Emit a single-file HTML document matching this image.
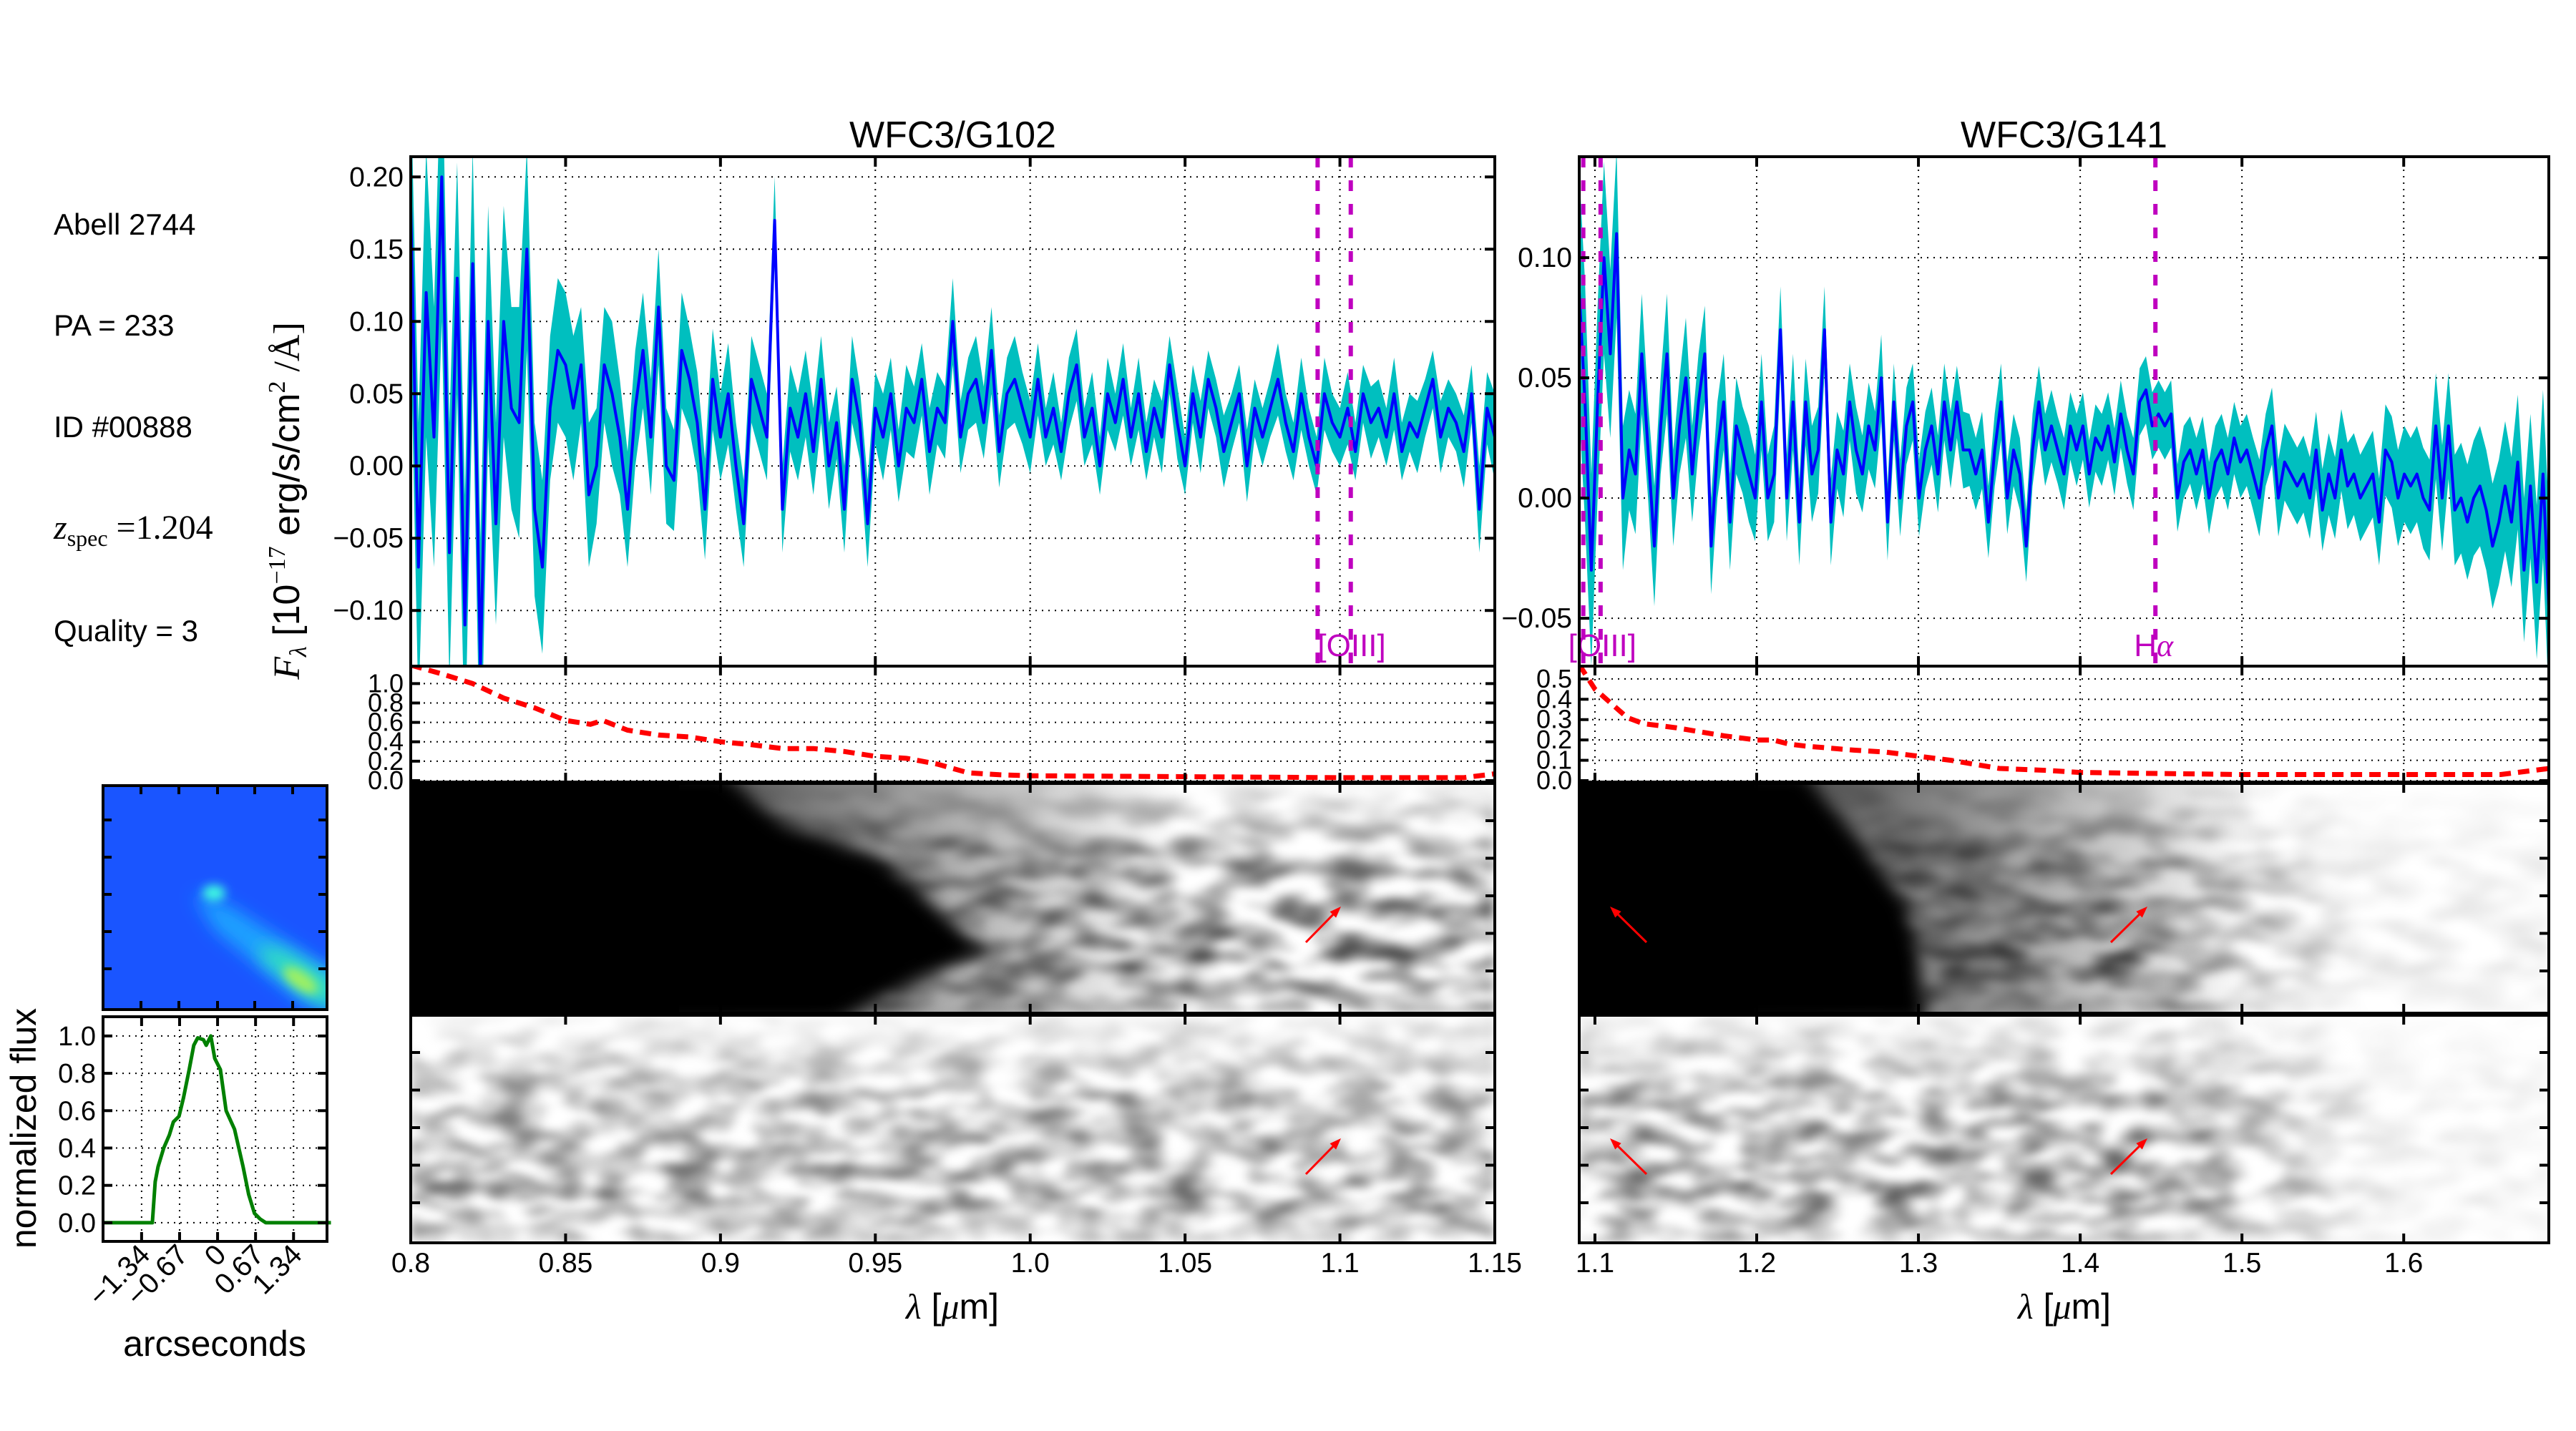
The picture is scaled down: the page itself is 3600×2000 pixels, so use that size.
<!DOCTYPE html>
<html><head><meta charset="utf-8"><style>
html,body{margin:0;padding:0;background:#fff;}
svg{display:block;font-family:"Liberation Sans",sans-serif;}
</style></head><body>
<svg id="fig" width="3600" height="2000" viewBox="0 0 3600 2000" xmlns="http://www.w3.org/2000/svg">
<defs>
<filter id="mottle" x="0" y="0" width="100%" height="100%">
<feTurbulence type="fractalNoise" baseFrequency="0.014 0.035" numOctaves="2" seed="7"/>
<feColorMatrix type="matrix" values="0 0 0 0 0  0 0 0 0 0  0 0 0 0 0  2.4 0 0 0 -0.85"/>
<feGaussianBlur stdDeviation="6"/>
</filter>
<filter id="mottle2" x="0" y="0" width="100%" height="100%">
<feTurbulence type="fractalNoise" baseFrequency="0.016 0.04" numOctaves="2" seed="19"/>
<feColorMatrix type="matrix" values="0 0 0 0 0  0 0 0 0 0  0 0 0 0 0  2.4 0 0 0 -0.85"/>
<feGaussianBlur stdDeviation="6"/>
</filter>
<filter id="blurMid" x="-50%" y="-50%" width="200%" height="200%"><feGaussianBlur stdDeviation="12"/></filter>
<filter id="blurSm" x="-80%" y="-80%" width="260%" height="260%"><feGaussianBlur stdDeviation="7"/></filter>
<linearGradient id="bandV" x1="0" y1="0" x2="0" y2="1">
<stop offset="0" stop-color="#fff" stop-opacity="0.85"/>
<stop offset="0.35" stop-color="#fff" stop-opacity="0.25"/>
<stop offset="0.8" stop-color="#fff" stop-opacity="0.1"/>
<stop offset="1" stop-color="#fff" stop-opacity="0.45"/>
</linearGradient>
<linearGradient id="fadeR102" x1="0" y1="0" x2="1" y2="0">
<stop offset="0" stop-color="#000" stop-opacity="0.75"/>
<stop offset="1" stop-color="#000" stop-opacity="0"/>
</linearGradient>
<linearGradient id="fadeWhiteR" x1="0" y1="0" x2="1" y2="0">
<stop offset="0" stop-color="#fff" stop-opacity="0"/>
<stop offset="1" stop-color="#fff" stop-opacity="0.85"/>
</linearGradient>
<clipPath id="clipA"><rect x="574" y="219" width="1515" height="712"/></clipPath>
<clipPath id="clipB"><rect x="2207" y="219" width="1355" height="712"/></clipPath>
<clipPath id="clipTA"><rect x="574" y="931" width="1515" height="162"/></clipPath>
<clipPath id="clipTB"><rect x="2207" y="931" width="1355" height="162"/></clipPath>
<clipPath id="c2a1"><rect x="574" y="1095" width="1515" height="321"/></clipPath>
<clipPath id="c2a2"><rect x="574" y="1419" width="1515" height="318"/></clipPath>
<clipPath id="c2b1"><rect x="2207" y="1095" width="1355" height="321"/></clipPath>
<clipPath id="c2b2"><rect x="2207" y="1419" width="1355" height="318"/></clipPath>
<clipPath id="cstamp"><rect x="144" y="1098" width="313" height="313"/></clipPath>
</defs>
</svg>
<script>
// ---------------- DATA ----------------
const G102_range = [0.80, 1.15];
const G102_flux = [0.18,-0.07,0.12,0.02,0.20,-0.06,0.13,-0.11,0.14,-0.14,0.10,-0.04,0.10,0.04,0.03,0.15,-0.03,
-0.07,0.04,0.08,0.07,0.04,0.07,-0.02,0.00,0.07,0.05,0.02,-0.03,0.04,0.08,0.02,0.11,0.00,-0.01,0.08,0.06,0.03,-0.03,0.06,0.02,
0.05,0.00,-0.04,0.06,0.04,0.02,0.17,-0.03,0.04,0.02,0.05,0.01,0.06,0.00,0.03,-0.03,
0.06,0.03,-0.04,0.04,0.02,0.05,0.00,0.04,0.03,0.06,0.01,0.04,0.03,0.10,0.02,0.05,0.06,0.03,0.08,0.01,0.05,0.06,0.04,0.02,
0.06,0.02,0.04,0.01,0.05,0.07,0.02,0.04,0.00,0.05,0.03,0.06,0.02,0.05,0.01,0.04,0.02,0.07,0.03,0.00,0.05,0.02,0.06,0.04,0.01,0.03,0.05,0.00,0.04,0.02,
0.04,0.06,0.03,0.01,0.05,0.02,0.00,0.05,0.03,0.02,0.04,0.01,0.05,0.03,0.04,0.02,0.05,0.01,0.03,0.02,0.04,0.06,0.02,0.04,0.03,0.01,0.05,-0.03,0.04,0.02];
const G102_err = [0.09,0.10,0.10,0.09,0.10,0.09,0.08,0.09,0.08,0.09,0.08,0.07,0.08,0.07,0.08,0.07,0.06,
0.06,0.05,0.05,0.05,0.05,0.04,0.05,0.04,0.04,0.05,0.04,0.04,0.04,0.04,0.04,0.04,0.04,0.035,0.04,0.035,0.035,0.035,0.035,0.03,
0.035,0.03,0.03,0.03,0.03,0.03,0.03,0.03,0.03,0.03,0.03,0.03,0.03,0.03,0.025,0.03,
0.03,0.025,0.03,0.025,0.03,0.025,0.025,0.03,0.025,0.025,0.03,0.025,0.025,0.03,0.025,0.025,0.03,0.025,0.03,0.025,0.025,0.03,0.025,0.025,
0.025,0.02,0.025,0.02,0.025,0.025,0.02,0.025,0.02,0.025,0.02,0.025,0.02,0.025,0.02,0.02,0.025,0.02,0.025,0.02,0.02,0.025,0.02,0.02,0.025,0.02,0.02,0.025,0.02,0.02,
0.02,0.025,0.02,0.02,0.025,0.02,0.02,0.025,0.02,0.02,0.025,0.02,0.02,0.025,0.02,0.02,0.025,0.02,0.02,0.025,0.02,0.02,0.025,0.02,0.02,0.025,0.02,0.03,0.025,0.03];
const G141_range = [1.09, 1.69];
const G141_flux = [0.09,0.04,-0.03,0.04,0.10,0.06,0.11,0.00,0.02,0.01,
0.06,0.02,-0.02,0.03,0.06,0.00,0.03,0.05,0.01,0.04,
0.06,-0.02,0.02,0.04,-0.01,0.03,0.02,0.01,0.00,0.04,
0.00,0.01,0.07,0.00,0.04,-0.01,0.04,0.01,0.02,0.07,
-0.01,0.02,0.01,0.04,0.02,0.01,0.03,0.02,0.05,-0.01,
0.04,0.00,0.03,0.04,0.00,0.02,0.03,0.01,0.04,0.02,
0.04,0.02,0.02,0.01,0.02,-0.01,0.02,0.04,0.00,0.02,
0.01,-0.02,0.02,0.04,0.02,0.03,0.02,0.01,0.03,0.02,
0.03,0.01,0.025,0.02,0.03,0.015,0.035,0.02,0.01,0.04,
0.045,0.03,0.035,0.03,0.035,0.00,0.015,0.02,0.01,0.02,
0.00,0.015,0.02,0.01,0.025,0.015,0.02,0.01,0.00,0.02,
0.03,0.00,0.015,0.01,0.005,0.01,0.00,0.02,-0.005,0.01,
0.00,0.02,0.005,0.01,0.00,0.005,0.01,-0.01,0.02,0.015,
0.00,0.01,0.005,0.01,0.00,-0.005,0.03,0.00,0.03,-0.005,
0.00,-0.01,0.00,0.005,-0.005,-0.02,-0.01,0.005,-0.01,0.015,
-0.03,0.005,-0.035,0.01,-0.05];
const G141_err = [0.05,0.05,0.04,0.04,0.04,0.035,0.035,0.03,0.025,0.025,
0.025,0.02,0.025,0.02,0.025,0.02,0.02,0.025,0.02,0.02,
0.02,0.02,0.02,0.02,0.02,0.02,0.018,0.02,0.018,0.02,
0.018,0.02,0.018,0.018,0.02,0.018,0.018,0.02,0.018,0.018,
0.018,0.016,0.018,0.016,0.018,0.016,0.018,0.016,0.018,0.016,
0.016,0.016,0.016,0.016,0.016,0.016,0.016,0.016,0.016,0.016,
0.015,0.016,0.015,0.015,0.016,0.015,0.015,0.016,0.015,0.015,
0.015,0.015,0.015,0.015,0.015,0.015,0.014,0.015,0.014,0.015,
0.014,0.014,0.014,0.015,0.014,0.014,0.014,0.014,0.015,0.014,
0.014,0.014,0.014,0.014,0.014,0.014,0.015,0.014,0.015,0.014,
0.015,0.015,0.015,0.015,0.015,0.015,0.015,0.015,0.016,0.015,
0.016,0.016,0.016,0.016,0.016,0.016,0.017,0.016,0.017,0.017,
0.017,0.017,0.018,0.017,0.018,0.018,0.018,0.018,0.019,0.019,
0.02,0.02,0.02,0.02,0.021,0.021,0.022,0.022,0.022,0.023,
0.023,0.024,0.024,0.025,0.025,0.026,0.026,0.027,0.027,0.028,
0.03,0.03,0.032,0.035,0.04];
const G102_sens_wave = [0.80,0.81,0.82,0.83,0.84,0.85,0.858,0.862,0.87,0.88,0.89,0.90,0.91,0.92,0.93,0.94,0.95,0.96,0.97,0.98,0.99,1.00,1.05,1.10,1.14,1.15];
const G102_sens = [1.19,1.10,1.00,0.85,0.75,0.62,0.58,0.62,0.52,0.47,0.45,0.40,0.37,0.33,0.33,0.30,0.25,0.23,0.17,0.08,0.06,0.05,0.04,0.03,0.03,0.07];
const G141_sens_wave = [1.0903,1.10,1.11,1.12,1.13,1.15,1.18,1.20,1.21,1.22,1.23,1.26,1.28,1.30,1.32,1.35,1.38,1.40,1.45,1.50,1.60,1.66,1.69];
const G141_sens = [0.57,0.45,0.38,0.31,0.28,0.26,0.22,0.20,0.20,0.18,0.17,0.15,0.14,0.12,0.10,0.06,0.05,0.04,0.035,0.03,0.03,0.03,0.06];
const profile_x = [-2.0,-1.15,-1.1,-1.05,-0.95,-0.85,-0.78,-0.68,-0.6,-0.5,-0.42,-0.35,-0.25,-0.2,-0.12,-0.05,0.05,0.15,0.3,0.45,0.55,0.65,0.75,0.85,2.0];
const profile_y = [0,0,0.22,0.3,0.4,0.47,0.54,0.57,0.67,0.82,0.95,0.99,0.98,0.95,1.0,0.88,0.82,0.6,0.5,0.3,0.15,0.05,0.02,0,0];
const lines_OIII = [1.0928, 1.1035];
const line_Ha = [1.4465];
const G102_xticks = ["0.8","0.85","0.9","0.95","1.0","1.05","1.1","1.15"];
const G102_yticks = ["0.20","0.15","0.10","0.05","0.00","-0.05","-0.10"];
const G141_xticks = ["1.1","1.2","1.3","1.4","1.5","1.6"];
const G141_yticks = ["0.10","0.05","0.00","-0.05"];
const G102_tticks = ["0.0","0.2","0.4","0.6","0.8","1.0"];
const G141_tticks = ["0.0","0.1","0.2","0.3","0.4","0.5"];
const prof_xticks = ["-1.34","-0.67","0","0.67","1.34"];
const prof_yticks = ["0.0","0.2","0.4","0.6","0.8","1.0"];

// ---------------- HELPERS ----------------
const NS = "http://www.w3.org/2000/svg";
const svg = document.getElementById('fig');
function mk(tag, attrs, parent) {
  const e = document.createElementNS(NS, tag);
  for (const k in attrs) e.setAttribute(k, attrs[k]);
  (parent || svg).appendChild(e);
  return e;
}
function scale(d0, d1, r0, r1) { return v => r0 + (v - d0) / (d1 - d0) * (r1 - r0); }
function linspace(a, b, n) { const o = []; for (let i = 0; i < n; i++) o.push(a + (b - a) * i / (n - 1)); return o; }

function grid(g, x0, x1, y0, y1, xs, ys) {
  xs.forEach(x => { const l = mk('line', {x1:x, x2:x, y1:y0, y2:y1, stroke:'#000', 'stroke-width':2, 'stroke-dasharray':'2 7'}, g);
    
     });
  ys.forEach(y => { const l = mk('line', {x1:x0, x2:x1, y1:y, y2:y, stroke:'#000', 'stroke-width':2, 'stroke-dasharray':'2 7'}, g);
    
     });
}
function ticks(g, x0, x1, y0, y1, xs, ys, len) {
  xs.forEach(x => {
    const a = mk('line', {x1:x, x2:x, y1:y1, y2:y1 - len, stroke:'#000', 'stroke-width':4}, g);
    
    
    const b = mk('line', {x1:x, x2:x, y1:y0, y2:y0 + len, stroke:'#000', 'stroke-width':4}, g);
    
    
  });
  ys.forEach(y => {
    const a = mk('line', {x1:x0, x2:x0 + len, y1:y, y2:y, stroke:'#000', 'stroke-width':4}, g);
    
    
    const b = mk('line', {x1:x1, x2:x1 - len, y1:y, y2:y, stroke:'#000', 'stroke-width':4}, g);
    
    
  });
}
function frame(g, x0, y0, w, h, name) {
  const r = mk('rect', {x:x0, y:y0, width:w, height:h, fill:'none', stroke:'#000', 'stroke-width':4}, g);
  
  
}
function txt(g, x, y, s, size, anchor, extra) {
  const t = mk('text', Object.assign({x:x, y:y, 'font-size':size, 'text-anchor':anchor || 'start', fill:'#000'}, extra || {}), g);
  t.textContent = s;
  return t;
}

// ---------------- SPECTRUM PANEL ----------------
function spectrumPanel(cfg) {
  const g = mk('g', {});
  
  
  const X = scale(cfg.xr[0], cfg.xr[1], cfg.x0, cfg.x1);
  const Y = scale(cfg.yr[0], cfg.yr[1], cfg.y1, cfg.y0);
  const n = cfg.flux.length;
  const wl = linspace(cfg.range[0], cfg.range[1], n);
  const xtv = cfg.xticks.map(Number), ytv = cfg.yticks.map(Number);
  grid(g, cfg.x0, cfg.x1, cfg.y0, cfg.y1, xtv.map(X), ytv.map(Y));
  const dg = mk('g', {'clip-path': 'url(#' + cfg.clip + ')'}, g);
  
  
  let up = [], dn = [];
  for (let i = 0; i < n; i++) { up.push(X(wl[i]).toFixed(1) + ',' + Y(cfg.flux[i] + cfg.err[i]).toFixed(1)); dn.push(X(wl[i]).toFixed(1) + ',' + Y(cfg.flux[i] - cfg.err[i]).toFixed(1)); }
  const band = mk('polygon', {points: up.concat(dn.reverse()).join(' '), fill:'#00bfbf', stroke:'none'}, dg);
  
  
  const pts = []; for (let i = 0; i < n; i++) pts.push(X(wl[i]).toFixed(1) + ',' + Y(cfg.flux[i]).toFixed(1));
  const ln = mk('polyline', {points: pts.join(' '), fill:'none', stroke:'#0000ff', 'stroke-width':4, 'stroke-linejoin':'round'}, dg);
  
  
  cfg.lines.forEach(l => {
    const v = mk('line', {x1:X(l.w), x2:X(l.w), y1:cfg.y0, y2:cfg.y1, stroke:'#bf00bf', 'stroke-width':6, 'stroke-dasharray':'15 18'}, dg);
    
    
  });
  cfg.labels.forEach(l => {
    const t = txt(g, X(l.w), cfg.y1 - 14, '', 44, 'start', {fill:'#bf00bf'});
    
    
    t.setAttribute('x', X(l.w) - l.dx);
    if (l.t === 'Ha') { t.textContent = 'H'; const ts = mk('tspan', {'font-family':'"Liberation Serif",serif', 'font-style':'italic'}, t); ts.textContent = 'α'; }
    else t.textContent = l.t;
  });
  ticks(g, cfg.x0, cfg.x1, cfg.y0, cfg.y1, xtv.map(X), ytv.map(Y), 14);
  frame(g, cfg.x0, cfg.y0, cfg.x1 - cfg.x0, cfg.y1 - cfg.y0, 'spectrum-frame');
  cfg.yticks.forEach((s, i) => { const t = txt(g, cfg.x0 - 10, Y(ytv[i]) + 13, s.replace('-', '\u2212'), 39, 'end');
    
     });
  const tt = txt(g, (cfg.x0 + cfg.x1) / 2, 206, cfg.title, 52, 'middle');
  
  
  return X;
}

function sensPanel(cfg) {
  const g = mk('g', {});
  
  
  const X = scale(cfg.xr[0], cfg.xr[1], cfg.x0, cfg.x1);
  const Y = scale(cfg.yr[0], cfg.yr[1], cfg.y1, cfg.y0);
  const ytv = cfg.yticks.map(Number);
  grid(g, cfg.x0, cfg.x1, cfg.y0, cfg.y1, cfg.xtv.map(X), ytv.map(Y));
  const dg = mk('g', {'clip-path': 'url(#' + cfg.clip + ')'}, g);
  const pts = cfg.w.map((w, i) => X(w).toFixed(1) + ',' + Y(cfg.s[i]).toFixed(1));
  const ln = mk('polyline', {points: pts.join(' '), fill:'none', stroke:'#ff0000', 'stroke-width':7, 'stroke-dasharray':'16 10'}, dg);
  
  
  ticks(g, cfg.x0, cfg.x1, cfg.y0, cfg.y1, cfg.xtv.map(X), ytv.map(Y), 13);
  frame(g, cfg.x0, cfg.y0, cfg.x1 - cfg.x0, cfg.y1 - cfg.y0, 'sensitivity-frame');
  cfg.yticks.forEach((s, i) => { const t = txt(g, cfg.x0 - 10, Y(ytv[i]) + 12, s, 36, 'end');
    
     });
}

function arrow(g, x1, y1, x2, y2) {
  const a = mk('g', {}, g);
  
  
  const dx = x2 - x1, dy = y2 - y1, L = Math.hypot(dx, dy), ux = dx / L, uy = dy / L;
  mk('line', {x1:x1, y1:y1, x2:x2 - ux * 12, y2:y2 - uy * 12, stroke:'#ff0000', 'stroke-width':3}, a);
  const bx = x2 - ux * 16, by = y2 - uy * 16;
  mk('polygon', {points: `${x2},${y2} ${bx - uy * 6},${by + ux * 6} ${bx + uy * 6},${by - ux * 6}`, fill:'#ff0000'}, a);
}

function twoD(cfg) {
  const g = mk('g', {});
  
  
  const ig = mk('g', {'clip-path': 'url(#' + cfg.clip + ')'}, g);
  mk('rect', {x:cfg.x0, y:cfg.y0, width:cfg.x1 - cfg.x0, height:cfg.y1 - cfg.y0, fill:'#fff'}, ig);
  mk('rect', {x:cfg.x0, y:cfg.y0, width:cfg.x1 - cfg.x0, height:cfg.y1 - cfg.y0, fill:'#000', filter:'url(#' + cfg.filter + ')', opacity:cfg.mop}, ig);
  mk('rect', {x:cfg.x0, y:cfg.y0, width:cfg.x1 - cfg.x0, height:cfg.y1 - cfg.y0, fill:'url(#bandV)'}, ig);
  if (cfg.fadeWhite) mk('rect', {x:cfg.fadeWhite[0], y:cfg.y0, width:cfg.fadeWhite[1] - cfg.fadeWhite[0], height:cfg.y1 - cfg.y0, fill:'url(#fadeWhiteR)'}, ig);
  if (cfg.fadeWhite) mk('rect', {x:cfg.fadeWhite[1], y:cfg.y0, width:cfg.x1 - cfg.fadeWhite[1] + 5, height:cfg.y1 - cfg.y0, fill:'#fff', opacity:0.85}, ig);
  if (cfg.gray) mk('rect', {x:cfg.gray[0], y:cfg.y0, width:cfg.gray[1] - cfg.gray[0], height:cfg.y1 - cfg.y0, fill:'url(#fadeR102)'}, ig);
  if (cfg.black) { const p = mk('polygon', {points: cfg.black, fill:'#000', filter:'url(#blurMid)'}, ig);
    
     }
  if (cfg.black) mk('rect', {x:cfg.x0 - 5, y:cfg.y0 - 5, width:cfg.blackW, height:cfg.y1 - cfg.y0 + 10, fill:'#000'}, ig);
  cfg.arrows.forEach(a => arrow(g, a[0], a[1], a[2], a[3]));
  const xt = cfg.xtv.map(cfg.X);
  xt.forEach(x => { mk('line', {x1:x, x2:x, y1:cfg.y1, y2:cfg.y1 - 13, stroke:'#000', 'stroke-width':4}, g); mk('line', {x1:x, x2:x, y1:cfg.y0, y2:cfg.y0 + 13, stroke:'#000', 'stroke-width':4}, g); });
  for (let y = cfg.y0 + 52; y < cfg.y1 - 10; y += 52.5) { mk('line', {x1:cfg.x1, x2:cfg.x1 - 13, y1:y, y2:y, stroke:'#000', 'stroke-width':4}, g); mk('line', {x1:cfg.x0, x2:cfg.x0 + 13, y1:y, y2:y, stroke:'#000', 'stroke-width':4}, g); }
  frame(g, cfg.x0, cfg.y0, cfg.x1 - cfg.x0, cfg.y1 - cfg.y0, '2d-frame');
}

// ---------------- BUILD ----------------
const XA = spectrumPanel({name:'g102-spectrum', title:'WFC3/G102', x0:574, x1:2089, y0:219, y1:931, xr:[0.8,1.15], yr:[-0.1385,0.214],
  range:G102_range, flux:G102_flux, err:G102_err, xticks:G102_xticks, yticks:G102_yticks, clip:'clipA',
  lines:lines_OIII.map(w => ({w:w})), labels:[{w:lines_OIII[0], t:'[OIII]', dx:0}]});
const XB = spectrumPanel({name:'g141-spectrum', title:'WFC3/G141', x0:2207, x1:3562, y0:219, y1:931, xr:[1.0903,1.6897], yr:[-0.0699,0.142],
  range:G141_range, flux:G141_flux, err:G141_err, xticks:G141_xticks, yticks:G141_yticks, clip:'clipB',
  lines:lines_OIII.concat(line_Ha).map(w => ({w:w})), labels:[{w:lines_OIII[0], t:'[OIII]', dx:21}, {w:line_Ha[0], t:'Ha', dx:30}]});

sensPanel({name:'g102-sensitivity', x0:574, x1:2089, y0:931, y1:1093, xr:[0.8,1.15], yr:[-0.015,1.18], w:G102_sens_wave, s:G102_sens,
  yticks:G102_tticks, xtv:G102_xticks.map(Number), clip:'clipTA'});
sensPanel({name:'g141-sensitivity', x0:2207, x1:3562, y0:931, y1:1093, xr:[1.0903,1.6897], yr:[-0.007,0.563], w:G141_sens_wave, s:G141_sens,
  yticks:G141_tticks, xtv:G141_xticks.map(Number), clip:'clipTB'});

twoD({name:'g102-2d-spectrum', clip:'c2a1', x0:574, x1:2089, y0:1095, y1:1416, filter:'mottle', mop:0.8,
  black:'540,1080 1010,1080 1090,1150 1230,1200 1300,1260 1375,1330 1260,1380 1170,1430 540,1430', blackW:380, gray:[900,1650],
  arrows:[[1825,1317,1874,1267]], xtv:G102_xticks.map(Number), X:scale(0.8,1.15,574,2089)});
twoD({name:'g102-2d-contam-subtracted', clip:'c2a2', x0:574, x1:2089, y0:1419, y1:1737, filter:'mottle2', mop:0.65,
  arrows:[[1825,1641,1874,1591]], xtv:G102_xticks.map(Number), X:scale(0.8,1.15,574,2089)});
twoD({name:'g141-2d-spectrum', clip:'c2b1', x0:2207, x1:3562, y0:1095, y1:1416, filter:'mottle', mop:0.8,
  black:'2170,1080 2520,1080 2600,1180 2660,1260 2680,1330 2690,1430 2170,1430', blackW:250, gray:[2450,3150], fadeWhite:[3000,3300],
  arrows:[[2301,1317,2250,1267],[2950,1317,3001,1267]], xtv:G141_xticks.map(Number), X:scale(1.0903,1.6897,2207,3562)});
twoD({name:'g141-2d-contam-subtracted', clip:'c2b2', x0:2207, x1:3562, y0:1419, y1:1737, filter:'mottle2', mop:0.7, fadeWhite:[3050,3350],
  arrows:[[2301,1641,2250,1591],[2950,1641,3001,1591]], xtv:G141_xticks.map(Number), X:scale(1.0903,1.6897,2207,3562)});

// x tick labels under 2D panels
(function(){
  const XA2 = scale(0.8,1.15,574,2089), XB2 = scale(1.0903,1.6897,2207,3562);
  G102_xticks.forEach(s => { const t = txt(svg, XA2(Number(s)), 1778, s, 39, 'middle');
    
     });
  G141_xticks.forEach(s => { const t = txt(svg, XB2(Number(s)), 1778, s, 39, 'middle');
    
     });
  [[1331,'g102-x-axis-title'],[2885,'g141-x-axis-title']].forEach(p => {
    const t = mk('text', {x:p[0], y:1843, 'font-size':50, 'text-anchor':'middle'});
    
    
    const a = mk('tspan', {'font-family':'"Liberation Serif",serif', 'font-style':'italic'}, t); a.textContent = 'λ';
    const b = mk('tspan', {}, t); b.textContent = ' [';
    const c = mk('tspan', {'font-family':'"Liberation Serif",serif', 'font-style':'italic'}, t); c.textContent = 'μ';
    const d = mk('tspan', {}, t); d.textContent = 'm]';
  });
})();

// y-axis title
(function(){
  const t = mk('text', {x:0, y:0, 'font-size':52, 'text-anchor':'middle', transform:'translate(418,700) rotate(-90)'});
  
  
  const parts = [['F', {'font-family':'"Liberation Serif",serif','font-style':'italic'}], ['λ', {'font-family':'"Liberation Serif",serif','font-style':'italic','font-size':34,'dy':10}],
    [' [10', {'dy':-10}], ['−17', {'font-family':'"Liberation Serif",serif','font-size':34,'dy':-20}], [' erg/s/cm', {'dy':20}], ['2', {'font-family':'"Liberation Serif",serif','font-size':34,'dy':-20}],
    [' /Å]', {'font-family':'"Liberation Serif",serif','dy':20}]];
  parts.forEach(p => { const s = mk('tspan', p[1], t); s.textContent = p[0]; });
})();

// info text
(function(){
  const g = mk('g', {});
  
  
  const a = txt(g, 75, 328, 'Abell 2744', 42);
  
  
  const b = txt(g, 75, 469, 'PA = 233', 42);
  
  
  const c = txt(g, 75, 611, 'ID #00888', 42);
  
  
  const z = mk('text', {x:75, y:753, 'font-size':48, 'font-family':'"Liberation Serif",serif'}, g);
  
  
  const z1 = mk('tspan', {'font-style':'italic'}, z); z1.textContent = 'z';
  const z2 = mk('tspan', {'font-size':32, dy:10}, z); z2.textContent = 'spec';
  const z3 = mk('tspan', {dy:-10}, z); z3.textContent = ' =1.204';
  const q = txt(g, 75, 896, 'Quality = 3', 42);
  
  
})();

// stamp image
(function(){
  const g = mk('g', {});
  
  
  const ig = mk('g', {'clip-path':'url(#cstamp)'}, g);
  mk('rect', {x:144, y:1098, width:313, height:313, fill:'#1a55ff'}, ig);
  mk('polygon', {points:'270,1250 320,1265 470,1360 470,1420 420,1400 300,1300', fill:'#1fa0ff', filter:'url(#blurMid)'}, ig);
  mk('polygon', {points:'360,1320 400,1330 470,1370 470,1410 440,1400 370,1345', fill:'#33e0c0', filter:'url(#blurMid)'}, ig);
  mk('ellipse', {cx:420, cy:1370, rx:28, ry:12, fill:'#a0f060', transform:'rotate(35 420 1370)', filter:'url(#blurSm)'}, ig);
  mk('ellipse', {cx:299, cy:1248, rx:16, ry:11, fill:'#40ffe0', filter:'url(#blurSm)'}, ig);
  [197,250,304,356,409].forEach(x => { mk('line', {x1:x, x2:x, y1:1098, y2:1110, stroke:'#000','stroke-width':4}, g); mk('line', {x1:x, x2:x, y1:1411, y2:1399, stroke:'#000','stroke-width':4}, g); });
  [1146,1198,1250,1302,1354].forEach(y => { mk('line', {x1:144, x2:156, y1:y, y2:y, stroke:'#000','stroke-width':4}, g); mk('line', {x1:457, x2:445, y1:y, y2:y, stroke:'#000','stroke-width':4}, g); });
  frame(g, 144, 1098, 313, 313, 'stamp-frame');
})();

// spatial profile
(function(){
  const g = mk('g', {});
  
  
  const X = scale(-2.02, 1.93, 144, 457), Y = scale(-0.1, 1.103, 1735, 1421);
  const xt = prof_xticks.map(Number), yt = prof_yticks.map(Number);
  grid(g, 144, 457, 1421, 1735, xt.map(X), yt.map(Y));
  const pts = profile_x.map((x, i) => X(x).toFixed(1) + ',' + Y(profile_y[i]).toFixed(1));
  const l = mk('polyline', {points:pts.join(' '), fill:'none', stroke:'#008000', 'stroke-width':5, 'stroke-linejoin':'round'}, g);
  
  
  ticks(g, 144, 457, 1421, 1735, xt.map(X), yt.map(Y), 13);
  frame(g, 144, 1421, 313, 314, 'profile-frame');
  prof_yticks.forEach((s, i) => { const t = txt(g, 134, Y(yt[i]) + 13, s, 38, 'end');
    
     });
  prof_xticks.forEach((s, i) => { const x = X(xt[i]) + 14, y = 1756;
    const t = txt(g, x, y, s.replace('-', '\u2212'), 40, 'end', {transform:`rotate(-45 ${x} ${y})`});
    
     });
  const a = txt(g, 300, 1895, 'arcseconds', 50, 'middle');
  
  
  const b = txt(g, 0, 0, 'normalized flux', 50, 'middle', {transform:'translate(50,1577) rotate(-90)'});
  
  
})();
</script>
</body></html>
